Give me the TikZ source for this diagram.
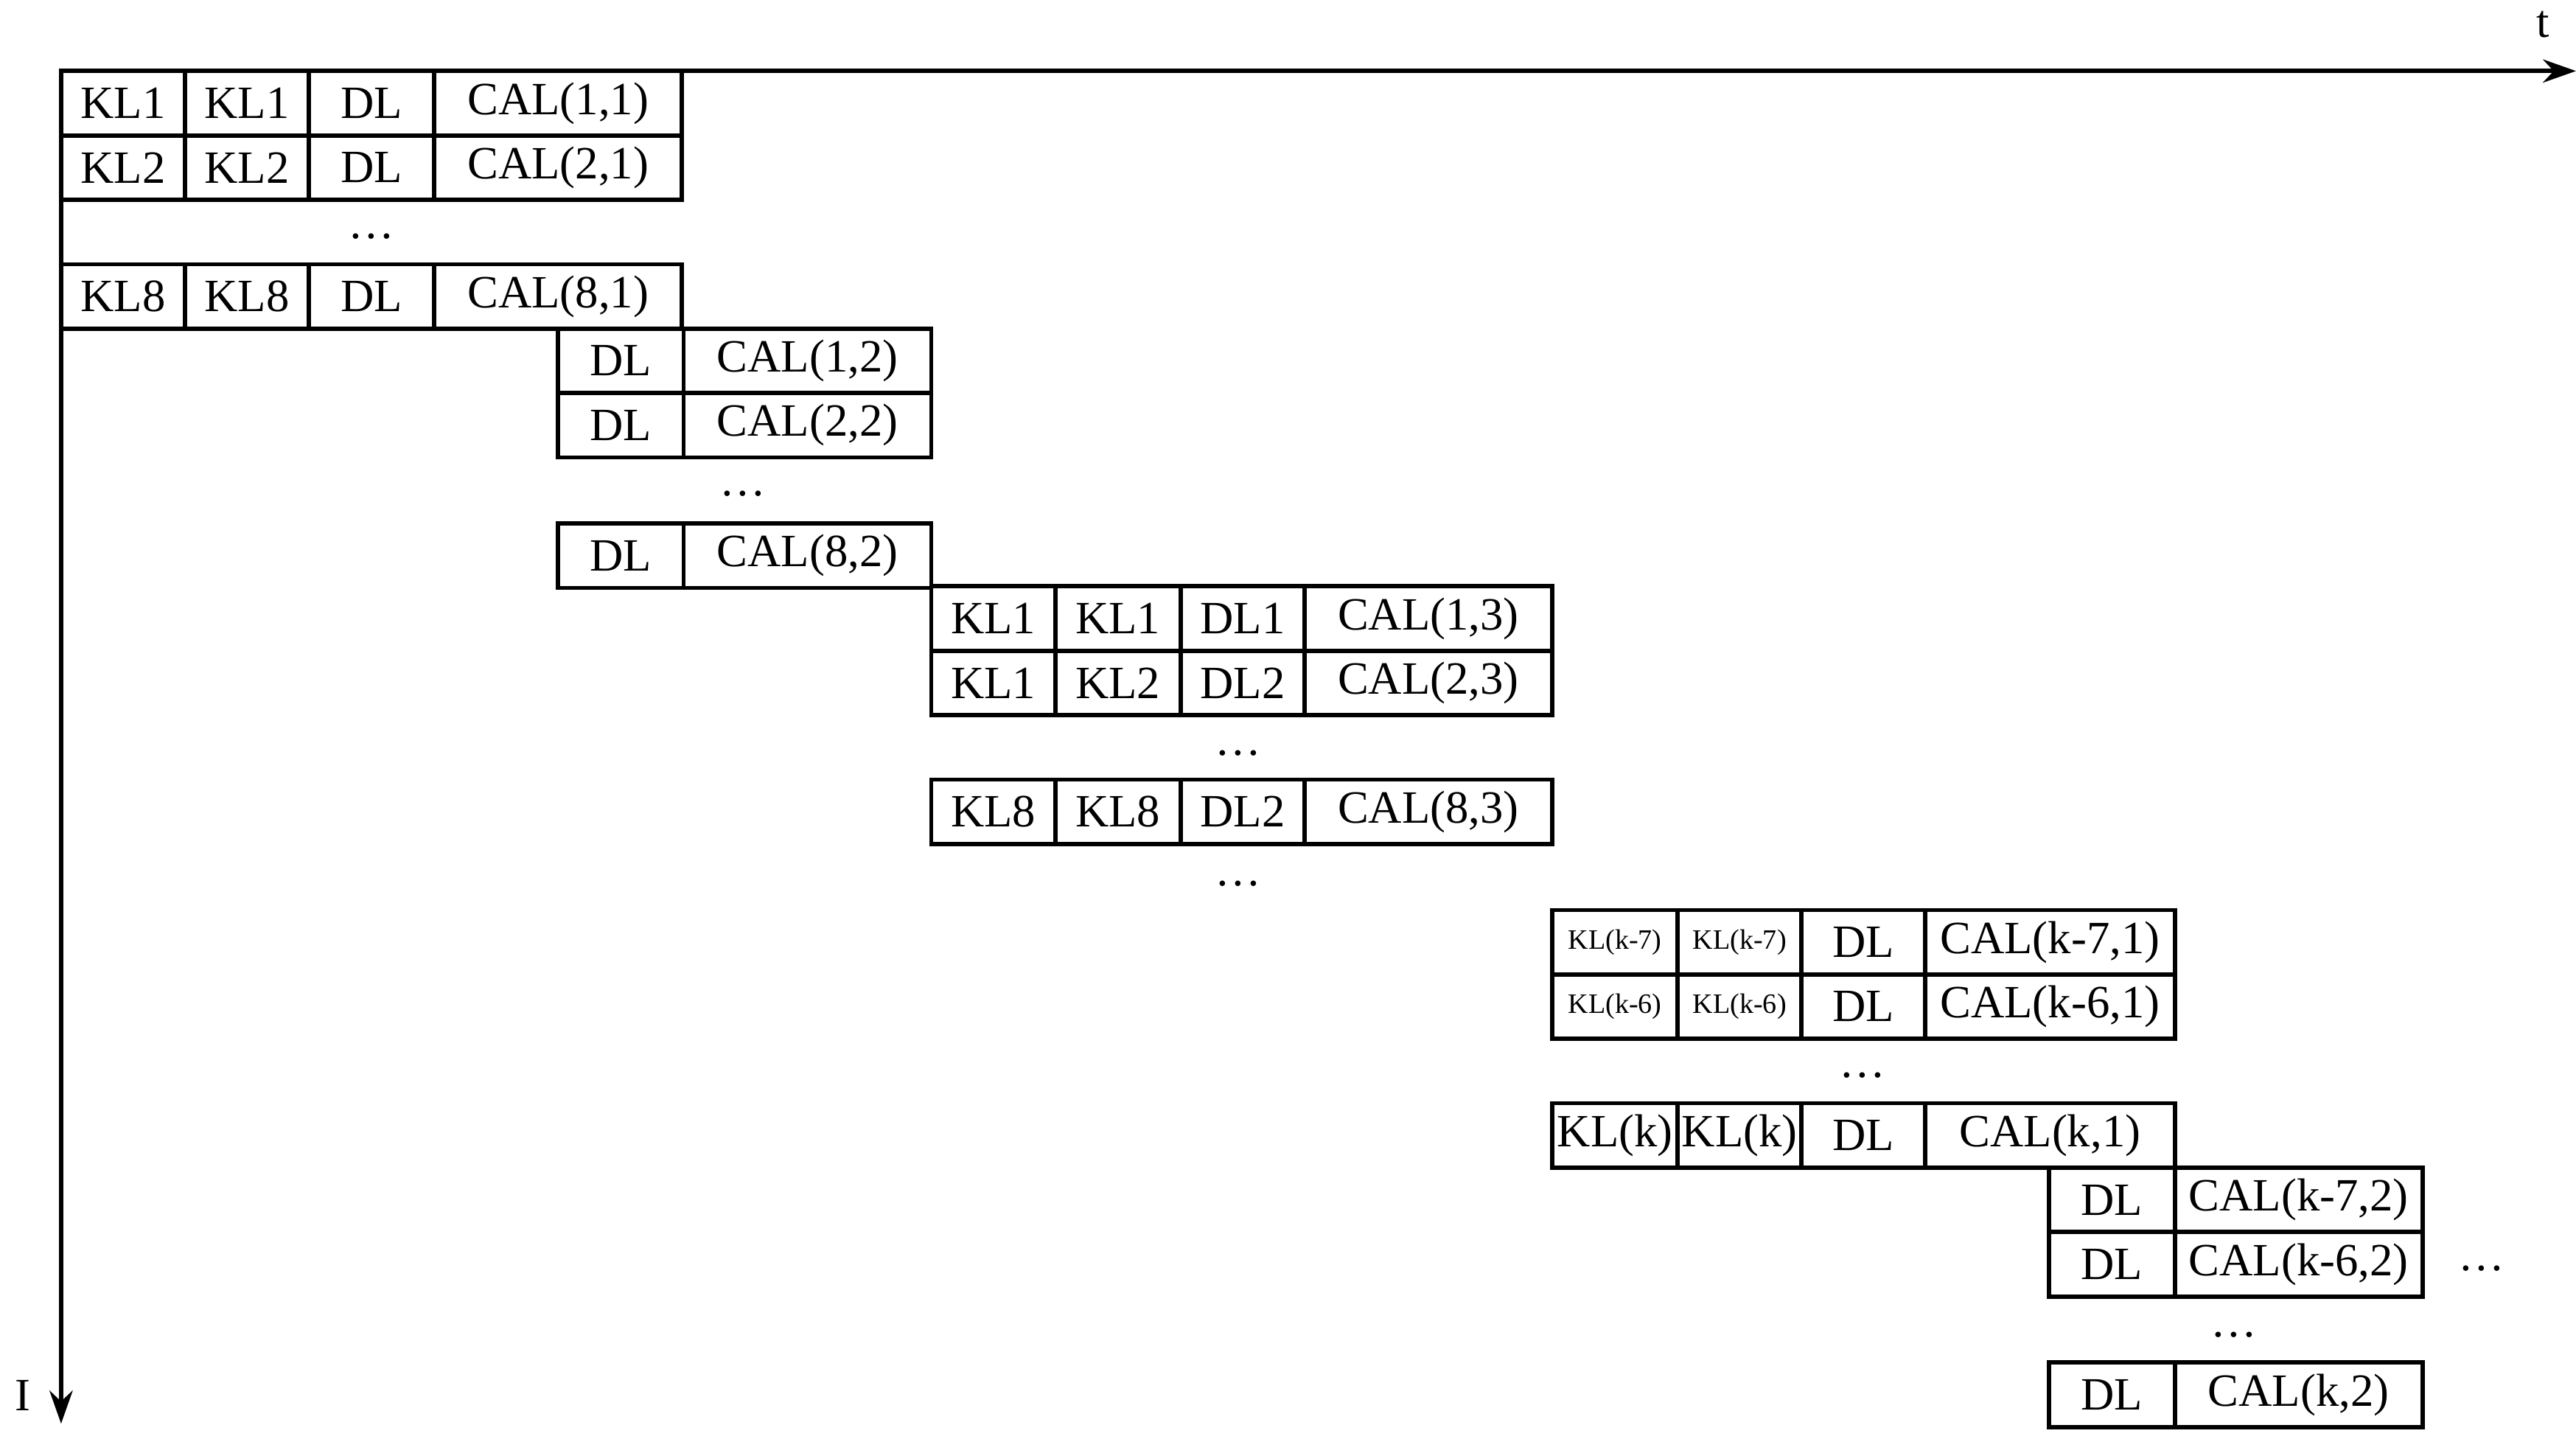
\documentclass[tikz,border=0pt]{standalone}
\usepackage{fontspec}
\setmainfont{Liberation Serif}
\usetikzlibrary{arrows.meta}
\newcommand\crow[3]{%
  \foreach \a/\b/\t [count=\i] in {#3}
    \node[cell, minimum width={(\b-\a)*0.5pt}] (#1\i) at ({(\a+\b)/2},{#2+19.5}) {\t};}
\begin{document}
\begin{tikzpicture}[x=0.5pt,y=-0.5pt,
  cell/.style={draw, line width=1.3pt, rectangle, minimum height=19.5pt, inner sep=0pt, font=\fontsize{14}{16}\selectfont},
  sm/.style={font=\fontsize{8.5}{10}\selectfont},
  dots/.style={font=\fontsize{14}{16}\selectfont}]
\useasboundingbox (0,0) rectangle (1560,871);
\coordinate (o) at (37,43);
\coordinate (tend) at (1560,43);
\coordinate (iend) at (37,862);
\draw[line width=1.3pt,-{Stealth[length=10pt,width=7pt]}] (o) -- (tend);
\draw[line width=1.3pt,-{Stealth[length=10pt,width=7pt]}] (o) -- (iend);
\node[dots] (tl) at (1540,15) {t};
\node[dots] (il) at (14,845) {I};
\crow{a}{43}{37/112/KL1,112/187/KL1,187/263/DL,263/413/{CAL(1,1)}}
\crow{b}{82}{37/112/KL2,112/187/KL2,187/263/DL,263/413/{CAL(2,1)}}
\node[dots] (d1) at (225,143) {…};
\crow{c}{160}{37/112/KL8,112/187/KL8,187/263/DL,263/413/{CAL(8,1)}}
\crow{d}{199}{338/414/DL,414/564/{CAL(1,2)}}
\crow{e}{238}{338/414/DL,414/564/{CAL(2,2)}}
\node[dots] (d2) at (450,299) {…};
\crow{f}{317}{338/414/DL,414/564/{CAL(8,2)}}
\crow{g}{355}{564/639/KL1,639/715/KL1,715/790/DL1,790/940/{CAL(1,3)}}
\crow{h}{394}{564/639/KL1,639/715/KL2,715/790/DL2,790/940/{CAL(2,3)}}
\node[dots] (d3) at (750,456) {…};
\crow{i}{472}{564/639/KL8,639/715/KL8,715/790/DL2,790/940/{CAL(8,3)}}
\node[dots] (d4) at (750,535) {…};
\crow{j}{551}{940/1016/{\fontsize{8.5}{10}\selectfont KL(k-7)},1016/1091/{\fontsize{8.5}{10}\selectfont KL(k-7)},1091/1166/DL,1166/1317/{CAL(k-7,1)}}
\crow{k}{590}{940/1016/{\fontsize{8.5}{10}\selectfont KL(k-6)},1016/1091/{\fontsize{8.5}{10}\selectfont KL(k-6)},1091/1166/DL,1166/1317/{CAL(k-6,1)}}
\node[dots] (d5) at (1128,651) {…};
\crow{l}{668}{940/1016/KL(k),1016/1091/KL(k),1091/1166/DL,1166/1317/{CAL(k,1)}}
\crow{m}{707}{1241/1317/DL,1317/1467/{CAL(k-7,2)}}
\crow{n}{746}{1241/1317/DL,1317/1467/{CAL(k-6,2)}}
\node[dots] (d6) at (1353,808) {…};
\node[dots] (d7) at (1503,768) {…};
\crow{p}{825}{1241/1317/DL,1317/1467/{CAL(k,2)}}
\end{tikzpicture}
\end{document}
